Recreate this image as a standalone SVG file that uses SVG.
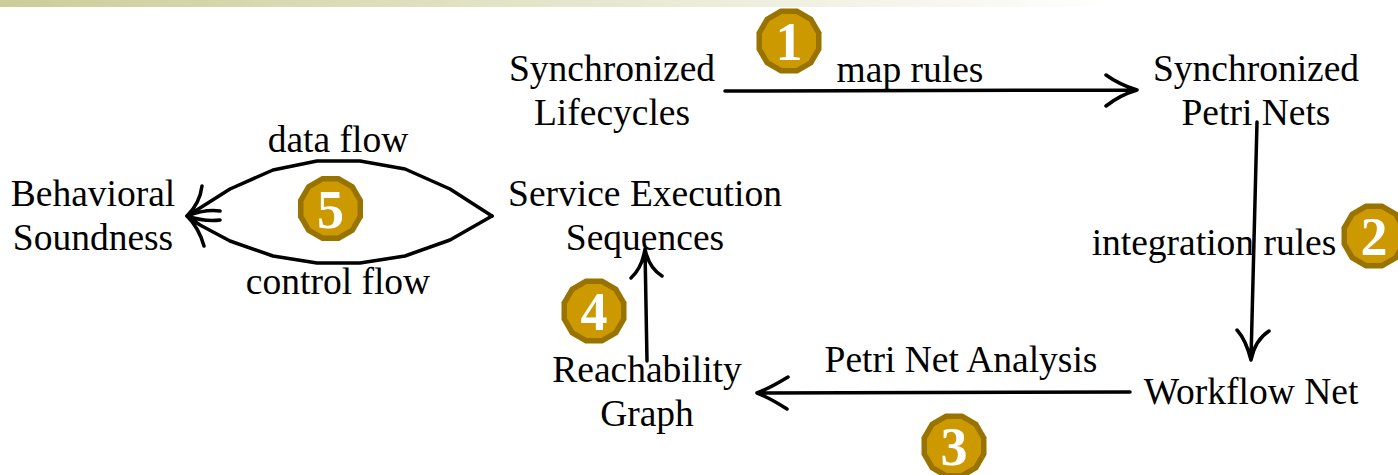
<svg xmlns="http://www.w3.org/2000/svg" width="1398" height="475" viewBox="0 0 1398 475">
<style>
text{font-family:"Liberation Serif","Times New Roman",serif;font-size:37.5px;fill:#000;text-anchor:middle}
.c{fill:none;stroke:#000;stroke-width:3.5;stroke-linecap:round;stroke-linejoin:round}
text.num{font-weight:bold;font-size:54px;fill:#fff}
.o{fill:#997300}.i{fill:#CC9900}
</style>
<defs>
<linearGradient id="bar"><stop offset="0" stop-color="#CCCC99"/><stop offset="0.8" stop-color="#FFFFFF"/></linearGradient>
<g id="badge">
<polygon class="o" points="-8.7,-32.5 8.7,-32.5 23.8,-23.8 32.5,-8.7 32.5,8.7 23.8,23.8 8.7,32.5 -8.7,32.5 -23.8,23.8 -32.5,8.7 -32.5,-8.7 -23.8,-23.8"/>
<polygon class="i" points="-7.2,-27 7.2,-27 19.8,-19.8 27,-7.2 27,7.2 19.8,19.8 7.2,27 -7.2,27 -19.8,19.8 -27,7.2 -27,-7.2 -19.8,-19.8"/>
</g>
</defs>
<rect x="0" y="0" width="1398" height="7" fill="url(#bar)"/>
<g id="connectors">
<path class="c" d="M725 91L1137 90M1106 75Q1120 85 1137 90Q1120 95 1106 106"/>
<path class="c" d="M1257 122L1251 359M1237 330Q1246 340 1251 360Q1255 340 1269 331"/>
<path class="c" d="M1130 392L757 393M788 377Q770 388 757 393Q770 398 787 409"/>
<path class="c" d="M647 361L645 249M631 278Q642 268 645 249Q649 268 662 276"/>
<path class="c" d="M492 216L450 189L405 169L360 161L317 161L273 170L230 189L200 208L187 216M202 186Q200 203 187 216Q205 209 220 211"/>
<path class="c" d="M492 216L450 240L405 256L360 263L317 263L273 256L230 241L200 225L187 216M204 246Q199 228 187 216Q205 222 220 220"/>
</g>
<g id="n1"><text x="612" y="81">Synchronized</text><text x="612" y="125">Lifecycles</text></g>
<g id="n2"><text x="1256" y="81">Synchronized</text><text x="1256" y="125">Petri Nets</text></g>
<g id="n3"><text x="1251" y="404">Workflow Net</text></g>
<g id="n4"><text x="647" y="382">Reachability</text><text x="647" y="426">Graph</text></g>
<g id="n5"><text x="645" y="206">Service Execution</text><text x="645" y="250">Sequences</text></g>
<g id="n6"><text x="93" y="206">Behavioral</text><text x="93" y="250">Soundness</text></g>
<g id="labels">
<text x="910" y="82">map rules</text>
<text x="1214" y="255">integration rules</text>
<text x="961" y="372">Petri Net Analysis</text>
<text x="338" y="152">data flow</text>
<text x="338" y="294">control flow</text>
</g>
<g id="b1"><use href="#badge" x="789" y="41"/><text class="num" x="789" y="60">1</text></g>
<g id="b2"><use href="#badge" x="1374" y="236"/><text class="num" x="1374" y="255">2</text></g>
<g id="b3"><use href="#badge" x="954" y="446"/><text class="num" x="954" y="465">3</text></g>
<g id="b4"><use href="#badge" x="594" y="311"/><text class="num" x="594" y="330">4</text></g>
<g id="b5"><use href="#badge" x="330.5" y="208.5"/><text class="num" x="330.5" y="228">5</text></g>
</svg>
